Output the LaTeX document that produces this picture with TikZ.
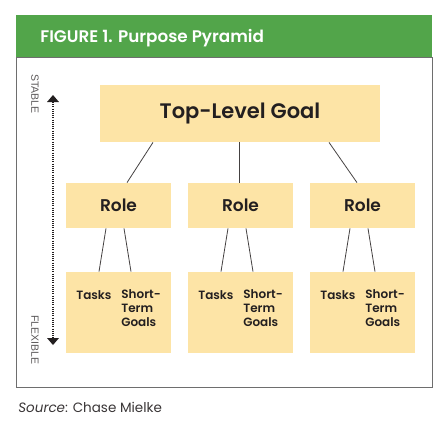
\documentclass[tikz,border=0pt]{standalone}
\usepackage{fontspec}
\setmainfont{Poppins}[BoldFont={Poppins SemiBold}, ItalicFont={Poppins Italic}]
\newfontfamily\sidefont{Liberation Sans}
\usetikzlibrary{arrows.meta}

\definecolor{hdrgreen}{RGB}{82,165,74}
\definecolor{boxfill}{RGB}{253,228,166}
\definecolor{inkdark}{RGB}{35,31,32}
\definecolor{framegray}{RGB}{110,110,110}

\tikzset{every picture/.style={line width=0.75pt}}
\tikzset{
  pbox/.style={fill=boxfill, draw=none, inner sep=0pt},
  tiny/.style={font=\bfseries\fontsize{12}{14}\selectfont, text=inkdark, inner sep=0pt},
  link/.style={draw=inkdark!85, line width=0.8pt},
  side/.style={font=\sidefont\fontsize{10.5}{12}\selectfont, text=inkdark!75, inner sep=0pt}
}

\begin{document}
\begin{tikzpicture}[x=1pt,y=1pt,yscale=-1,xscale=1]
\useasboundingbox (0,0) rectangle (448,426);

%Shape: Rectangle - header
\fill [hdrgreen] (16,15) rectangle (432,57);
% Text Node
\node (title) [anchor=base west, text=white, inner sep=0pt, font=\bfseries\fontsize{16.8}{19}\selectfont] at (40,42) {FIGURE 1. Purpose Pyramid};
%Shape: Rectangle - frame
\draw [framegray, line width=1pt] (16,57) rectangle (432,387);

%Shape: Top box
\node (top) [pbox, minimum width=280, minimum height=57, font=\bfseries\fontsize{21}{24}\selectfont, text=inkdark] at (240,113.5) {Top-Level Goal};

%Shapes: Role boxes
\node (roleA) [pbox, minimum width=105, minimum height=45, font=\bfseries\fontsize{17}{19}\selectfont, text=inkdark] at (118.5,205.5) {Role};
\node (roleB) [pbox, minimum width=105, minimum height=45, font=\bfseries\fontsize{17}{19}\selectfont, text=inkdark] at (240.5,205.5) {Role};
\node (roleC) [pbox, minimum width=105, minimum height=45, font=\bfseries\fontsize{17}{19}\selectfont, text=inkdark] at (362.5,205.5) {Role};

%Shapes: Bottom boxes
\node (baseA) [pbox, minimum width=105, minimum height=81] at (118.5,312.5) {};
\node (baseB) [pbox, minimum width=105, minimum height=81] at (240.5,312.5) {};
\node (baseC) [pbox, minimum width=105, minimum height=81] at (362.5,312.5) {};

% Text Node
\node (tasksA) [tiny, anchor=base west] at (76,299) {Tasks};
\node (shortA) [tiny, anchor=north west, align=left] at (121,289) {Short-\\Term\\Goals};
\node (tasksB) [tiny, anchor=base west] at (198,299) {Tasks};
\node (shortB) [tiny, anchor=north west, align=left] at (243,289) {Short-\\Term\\Goals};
\node (tasksC) [tiny, anchor=base west] at (320,299) {Tasks};
\node (shortC) [tiny, anchor=north west, align=left] at (365,289) {Short-\\Term\\Goals};

%Straight Lines - top to roles
\draw [link] ([xshift=-87pt]top.south) -- ([xshift=8.5pt]roleA.north);
\draw [link] ([xshift=-1pt]top.south) -- ([xshift=-1.5pt]roleB.north);
\draw [link] ([xshift=89pt]top.south) -- ([xshift=-5.5pt]roleC.north);

%Straight Lines - roles to bottom boxes
\draw [link] ([xshift=-12.5pt]roleA.south) -- ([xshift=-19.5pt]baseA.north);
\draw [link] ([xshift=5.5pt]roleA.south) -- ([xshift=12.5pt]baseA.north);
\draw [link] ([xshift=-12.5pt]roleB.south) -- ([xshift=-19.5pt]baseB.north);
\draw [link] ([xshift=5.5pt]roleB.south) -- ([xshift=12.5pt]baseB.north);
\draw [link] ([xshift=-12.5pt]roleC.south) -- ([xshift=-19.5pt]baseC.north);
\draw [link] ([xshift=5.5pt]roleC.south) -- ([xshift=12.5pt]baseC.north);

%Dotted arrow - stable to flexible
\coordinate (up) at (53,95);
\coordinate (upbase) at (53,102);
\coordinate (down) at (53,345);
\coordinate (downbase) at (53,338);
\draw [inkdark, line width=1.4pt, dash pattern=on 1pt off 1.2pt] (upbase) -- (downbase);
\fill [inkdark] (up) -- ([xshift=-6pt]upbase) -- ([xshift=6pt]upbase) -- cycle;
\fill [inkdark] (down) -- ([xshift=-6pt]downbase) -- ([xshift=6pt]downbase) -- cycle;
% Text Node
\node (stable) [side] at (35,94) {\rotatebox{-90}{STABLE}};
\node (flexible) [side] at (35,340) {\rotatebox{-90}{FLEXIBLE}};

% Text Node
\node (source) [anchor=base west, inner sep=0pt, text=inkdark!90, font=\fontsize{13.5}{15}\selectfont] at (18,412) {\textit{Source}: Chase Mielke};
\end{tikzpicture}
\end{document}
